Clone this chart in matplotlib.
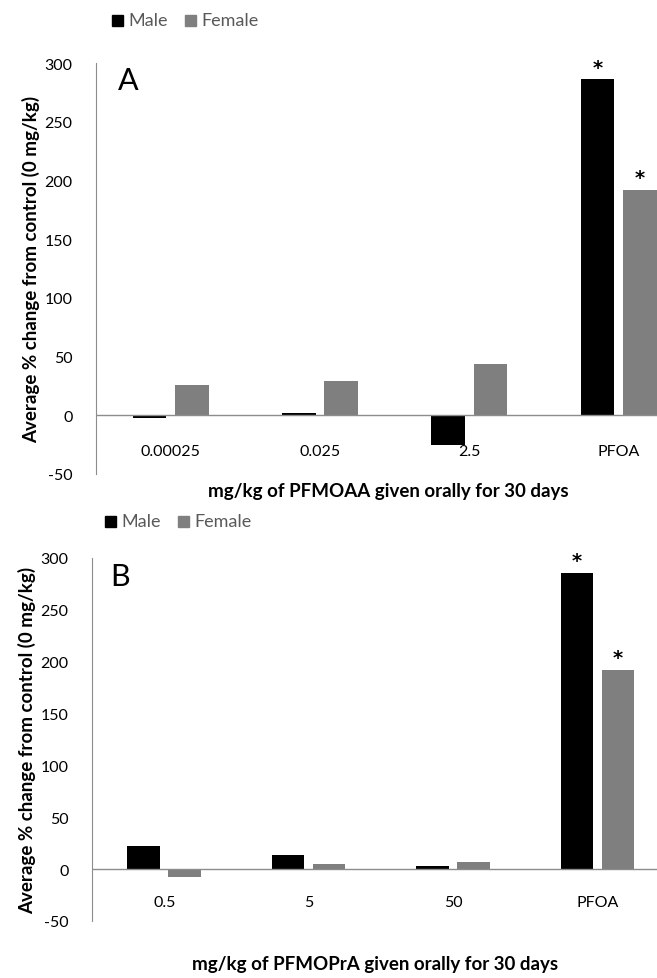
import numpy as np
import matplotlib.pyplot as plt
from matplotlib.patches import Rectangle

plt.rcParams['font.family'] = ['Lato', 'DejaVu Sans']

# panel A data
a_cats = ['0.00025', '0.025', '2.5', 'PFOA']
a_male = [-2.3, 2.3, -25.6, 286]
a_female = [25.6, 29.6, 43.5, 192]
a_star = [False, False, False, True]

# panel B data
b_cats = ['0.5', '5', '50', 'PFOA']
b_male = [22, 13.5, 3.5, 286]
b_female = [-7.4, 5.1, 7.1, 192]
b_star = [False, False, False, True]

y_ticks = [-50, 0, 50, 100, 150, 200, 250, 300]
W, H = 657, 979
gray = '#7f7f7f'
axis_gray = '#8c8c8c'


def legend_item(x, y, color, label):
    # square of 11 px, label to the right; x, y in figure pixels from top-left
    fig.patches.append(Rectangle((x / W, 1 - (y + 5.5) / H), 11 / W, 11 / H,
                                 transform=fig.transFigure, color=color))
    fig.text((x + 16) / W, 1 - y / H, label, color='#595959', fontsize=13, va='center')


def panel(rect, cats, male, female, star, letter, letter_xy, xlabel, xlabel_y, lab_y, leg_xy):
    ax = fig.add_axes(rect)
    x = np.arange(len(cats))
    w = 0.225
    off = 0.142
    ax.bar(x - off, male, w, color='black', zorder=2)
    ax.bar(x + off, female, w, color=gray, zorder=2)
    for i in range(len(cats)):
        if star[i]:
            for xx, v in [(x[i] - off, male[i]), (x[i] + off, female[i])]:
                ax.annotate('*', (xx, v), xytext=(0, 2), textcoords='offset points',
                            ha='center', va='bottom', fontsize=14, fontweight='bold',
                            family='DejaVu Sans')
        ax.text(x[i], lab_y, cats[i], ha='center', va='center', fontsize=11.5)
    ax.axhline(0, color=axis_gray, lw=1, zorder=3)
    ax.set_xlim(-0.5, len(cats) - 0.5)
    ax.set_ylim(-50, 300)
    ax.set_yticks(y_ticks)
    ax.set_yticklabels([str(t) for t in y_ticks], fontsize=11.5)
    ax.tick_params(axis='y', length=0, pad=17)
    ax.set_xticks([])
    for s in ['top', 'right', 'bottom']:
        ax.spines[s].set_visible(False)
    ax.spines['left'].set_color(axis_gray)
    ax.set_ylabel('Average % change from control (0 mg/kg)', fontsize=13.5,
                  fontweight='bold', labelpad=3)
    ax.text(letter_xy[0], letter_xy[1], letter, transform=ax.transAxes, fontsize=22, va='center')
    ax.set_xlabel(xlabel, fontsize=13.5, fontweight='bold')
    ax.xaxis.set_label_coords(0.49, xlabel_y, transform=ax.transAxes)
    ax.xaxis.label.set_va('center')
    lx, ly = leg_xy
    legend_item(lx, ly, 'black', 'Male')
    legend_item(lx + 73, ly, gray, 'Female')
    return ax


fig = plt.figure(figsize=(W / 100, H / 100), dpi=100)

# panel A: spine x=96, group step 149 px, 300 at y=64, -50 at y=475
panel([96 / W, 1 - 475 / H, 4 * 149.3 / W, 411 / H], a_cats, a_male, a_female, a_star,
      'A', (0.037, 0.959), 'mg/kg of PFMOAA given orally for 30 days', -0.041, -30, (112, 21))
# panel B: spine x=92, group step 144 px, 300 at y=559, -50 at y=922
panel([92 / W, 1 - 922 / H, 4 * 144.4 / W, 363 / H], b_cats, b_male, b_female, b_star,
      'B', (0.031, 0.95), 'mg/kg of PFMOPrA given orally for 30 days', -0.118, -32, (105, 522))

fig.savefig('out.png', dpi=100)
